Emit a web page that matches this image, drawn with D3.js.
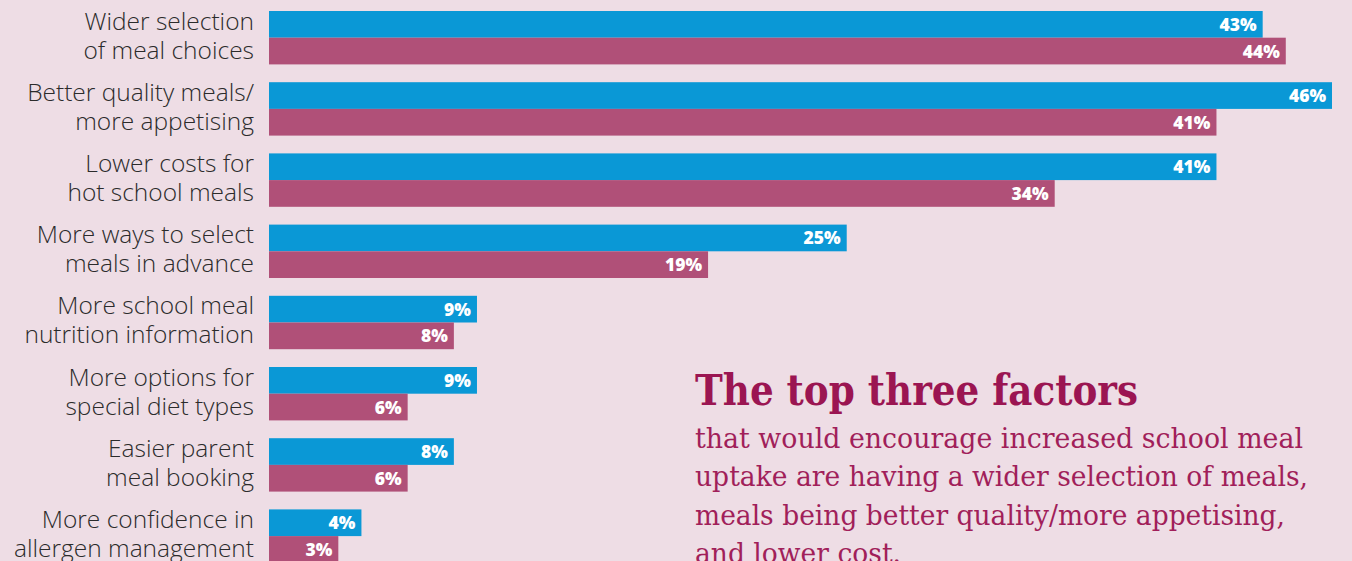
<!DOCTYPE html>
<html><head><meta charset="utf-8">
<script src="https://cdn.jsdelivr.net/npm/d3@7"></script>
<style>
html,body{margin:0;padding:0;background:#eedde5;}
svg{display:block;}
</style></head>
<body>
<script>
const categories = [
  ["Wider selection","of meal choices"],
  ["Better quality meals/","more appetising"],
  ["Lower costs for","hot school meals"],
  ["More ways to select","meals in advance"],
  ["More school meal","nutrition information"],
  ["More options for","special diet types"],
  ["Easier parent","meal booking"],
  ["More confidence in","allergen management"]
];
const seriesA = [43,46,41,25,9,9,8,4];
const seriesB = [44,41,34,19,8,6,6,3];
const titleText = "The top three factors";
const bodyLines = [
  "that would encourage increased school meal",
  "uptake are having a wider selection of meals,",
  "meals being better quality/more appetising,",
  "and lower cost."
];

const W = 1352, H = 561;
const svg = d3.select("body").append("svg").attr("width", W).attr("height", H);
svg.append("rect").attr("width", W).attr("height", H).attr("fill", "#eedde5");

const x = d3.scaleLinear().domain([0, 46]).range([269, 1332]);
const y = d3.scaleBand().domain(d3.range(categories.length)).range([11, 11 + 71.2*8]).paddingInner(0).paddingOuter(0);
const barH = 26.7;

const g = svg.append("g");
categories.forEach((c, i) => {
  const y0 = y(i);
  const t = g.append("text").attr("text-anchor", "end")
    .attr("font-family", "'Open Sans', sans-serif").attr("font-weight", 300)
    .attr("font-size", 24.5).attr("fill", "#2b2b2b");
  t.append("tspan").attr("x", 254).attr("y", y0 + 18.5).text(c[0]);
  t.append("tspan").attr("x", 254).attr("y", y0 + 47.5).text(c[1]);
  [[seriesA[i], "#0a98d6", 0], [seriesB[i], "#b05078", 1]].forEach(([v, col, k]) => {
    const by = y0 + k*barH;
    g.append("rect").attr("x", x(0)).attr("y", by).attr("width", x(v) - x(0)).attr("height", barH).attr("fill", col);
    g.append("text").attr("x", x(v) - 6).attr("y", by + barH/2 + 6.5)
      .attr("text-anchor", "end").attr("font-family", "'Open Sans', sans-serif")
      .attr("font-weight", 800).attr("font-size", 17.5).attr("fill", "#fff").text(v + "%");
  });
});

svg.append("text").attr("x", 695).attr("y", 405)
  .attr("font-family", "'DejaVu Serif', serif").attr("font-weight", 700)
  .attr("font-size", 42).attr("fill", "#9b1552")
  .attr("textLength", 443).attr("lengthAdjust", "spacingAndGlyphs").text(titleText);

const bodyW = [608, 613, 590, 206];
bodyLines.forEach((l, i) => {
  svg.append("text").attr("x", 695).attr("y", 448 + i*38.3)
    .attr("font-family", "'DejaVu Serif', serif").attr("font-size", 27)
    .attr("fill", "#a11f5a")
    .attr("textLength", bodyW[i]).attr("lengthAdjust", "spacingAndGlyphs").text(l);
});
</script>
</body></html>
